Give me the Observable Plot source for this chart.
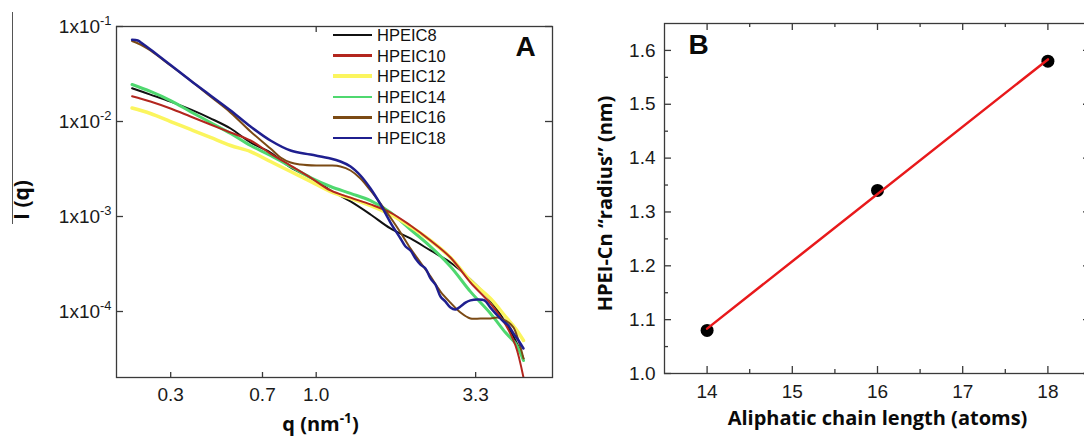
<!DOCTYPE html>
<html><head><meta charset="utf-8">
<script src="https://cdn.jsdelivr.net/npm/d3@7"></script>
<script src="https://cdn.jsdelivr.net/npm/@observablehq/plot@0.6"></script>
<style>
html,body{margin:0;padding:0;background:#fff;}
#wrap{position:relative;width:1084px;height:436px;overflow:hidden;background:#fff;}
#a,#b{position:absolute;top:0;height:436px;}
#a{left:0;width:560px;} #b{left:560px;width:540px;}
#a svg,#b svg{max-width:none !important;}
#vline{position:absolute;left:12px;top:12px;width:0;height:212px;border-left:1.5px solid #555;}
.lg{position:absolute;}
.lt{position:absolute;left:377px;font-family:'Liberation Sans',Arial,sans-serif;font-size:16.5px;color:#111;line-height:1;transform:translateY(-50%);}
</style></head>
<body><div id="wrap"><div id="vline"></div><div id="a"></div><div id="b"></div><div id="legend"></div></div>
<script>
// ---- Panel A data ----
const seriesNames = ["HPEIC8","HPEIC10","HPEIC12","HPEIC14","HPEIC16","HPEIC18"];
const seriesColors = ["#111111","#b3261e","#fbf55e","#4fd86f","#7b4a14","#1f1f8f"];
const seriesWidths = [2, 2, 3.5, 3, 2, 2.5];
const drawOrder = [0, 3, 2, 1, 4, 5];

const qGrid = [0.249, 0.286, 0.333, 0.387, 0.45, 0.524, 0.609, 0.708, 0.824, 0.958, 1.114, 1.296, 1.507, 1.752, 2.038, 2.37, 2.756, 3.205, 3.728, 4.175, 4.503, 4.783];
const iC8  = [0.0224, 0.0192, 0.0162, 0.0134, 0.0108, 0.00844, 0.00601, 0.00472, 0.00328, 0.00257, 0.00188, 0.00144, 0.00105, 0.000748, 0.000587, 0.000439, 0.000328, 0.000217, 0.000131, 0.0000766, 0.0000495, 0.000032];
const iC10 = [0.01846, 0.01624, 0.0137, 0.01129, 0.0093, 0.00766, 0.00631, 0.0046, 0.00344, 0.00257, 0.00188, 0.00158, 0.00134, 0.0011, 0.000804, 0.000559, 0.00037, 0.000202, 0.000121, 0.000073, 0.0000439, 0.0000202];
const iC12 = [0.01387, 0.01214, 0.01, 0.00824, 0.00679, 0.00559, 0.00483, 0.00379, 0.00298, 0.00234, 0.00183, 0.00155, 0.001305, 0.00105, 0.000785, 0.000559, 0.00037, 0.000212, 0.000137, 0.0000886, 0.0000662, 0.0000495];
const iC14 = [0.0245, 0.0207, 0.0166, 0.0127, 0.00976, 0.00748, 0.00559, 0.00439, 0.00336, 0.00257, 0.00207, 0.00175, 0.00147, 0.0011, 0.00073, 0.000483, 0.000298, 0.000162, 0.0000953, 0.0000601, 0.0000461, 0.0000305];
const qC16 = [0.249, 0.269, 0.286, 0.333, 0.387, 0.45, 0.524, 0.609, 0.708, 0.764, 0.824, 0.888, 1.0, 1.114, 1.201, 1.296, 1.397, 1.507, 1.625, 1.752, 1.89, 2.038, 2.198, 2.37, 2.556, 2.756, 2.973, 3.205, 3.457, 3.728, 3.93, 4.113, 4.271, 4.436, 4.607, 4.783];
const iC16 = [0.0704, 0.0631, 0.0559, 0.0389, 0.027, 0.0183, 0.0124, 0.00785, 0.0052, 0.00418, 0.0037, 0.00353, 0.00344, 0.00344, 0.00336, 0.00305, 0.00251, 0.00188, 0.00137, 0.000976, 0.000679, 0.000461, 0.000328, 0.000234, 0.000162, 0.000124, 0.0000976, 0.0000844, 0.0000844, 0.0000844, 0.0000864, 0.0000824, 0.0000766, 0.0000679, 0.0000495, 0.000032];
const qC18 = [0.249, 0.26, 0.269, 0.286, 0.333, 0.387, 0.45, 0.524, 0.609, 0.708, 0.824, 0.958, 1.114, 1.201, 1.296, 1.397, 1.507, 1.625, 1.752, 1.89, 1.963, 2.038, 2.116, 2.198, 2.282, 2.37, 2.461, 2.556, 2.654, 2.756, 2.862, 2.973, 3.087, 3.205, 3.38, 3.563, 3.728, 3.93, 4.113, 4.271, 4.436, 4.607, 4.783];
const iC18 = [0.0724, 0.0712, 0.0662, 0.0573, 0.0393, 0.027, 0.0188, 0.01305, 0.00886, 0.00631, 0.00495, 0.00449, 0.00408, 0.00379, 0.00336, 0.0027, 0.00197, 0.00134, 0.000864, 0.000587, 0.000483, 0.000439, 0.000361, 0.000312, 0.000284, 0.000223, 0.000192, 0.000144, 0.000127, 0.00011, 0.000105, 0.000113, 0.000124, 0.000131, 0.000134, 0.000131, 0.00011, 0.0000908, 0.0000785, 0.0000712, 0.0000587, 0.0000495, 0.0000408];

const qTicks = [1/3, 2/3, 1, 10/3];
const qTickLabels = ["0.3", "0.7", "1.0", "3.3"];
const iTicks = [1e-1, 1e-2, 1e-3, 1e-4];
const iTickLabels = ["1x10^{-1}", "1x10^{-2}", "1x10^{-3}", "1x10^{-4}"];
const titleA = "A", xTitleA = "q (nm^{-1})", yTitleA = "I (q)";

// ---- Panel B data ----
const chainLength = [14, 16, 18];
const radiusNm = [1.08, 1.34, 1.58];
const bxMajor = [14, 15, 16, 17, 18];
const bxMinor = [14.5, 15.5, 16.5, 17.5];
const byMajor = [1.0, 1.1, 1.2, 1.3, 1.4, 1.5, 1.6];
const byMinor = [1.05, 1.15, 1.25, 1.35, 1.45, 1.55];
const titleB = "B", xTitleB = "Aliphatic chain length (atoms)", yTitleB = "HPEI-Cn \u201cradius\u201d (nm)";

const FONT = "'Liberation Sans', Arial, sans-serif";
const TFONT = "'Open Sans', Lato, sans-serif";
const AX = "#3a3a3a";

const seriesQ = [qGrid, qGrid, qGrid, qGrid, qC16, qC18];
const seriesI = [iC8, iC10, iC12, iC14, iC16, iC18];

function rowsFor(k){ return seriesQ[k].map((q, j) => ({series: seriesNames[k], q, I: seriesI[k][j]})); }

const fwA = 436, fhA = 351;
const plotA = Plot.plot({
  width: 560, height: 436,
  marginLeft: 116, marginRight: 8, marginTop: 26, marginBottom: 59,
  x: {type: "log", domain: [0.2214, 5.955]},
  y: {type: "log", domain: [2.02e-5, 0.1]},
  style: {fontFamily: FONT, fontSize: "19px", color: "#1a1a1a", background: "transparent", overflow: "visible"},
  marks: [
    ...drawOrder.map(k => Plot.line(rowsFor(k), {x: "q", y: "I", stroke: seriesColors[k], strokeWidth: seriesWidths[k], curve: "catmull-rom", clip: true})),
    Plot.frame({stroke: AX, strokeWidth: 1.3}),
    Plot.tickY(iTicks, {y: d => d, insetRight: fwA - 7, stroke: AX, strokeWidth: 1.3}),
    Plot.tickY(iTicks, {y: d => d, insetLeft: fwA - 7, stroke: AX, strokeWidth: 1.3}),
    Plot.tickX(qTicks, {x: d => d, insetTop: fhA - 5, stroke: AX, strokeWidth: 1.3}),
    Plot.tickX([1], {x: d => d, insetBottom: fhA - 6, stroke: AX, strokeWidth: 1.3}),
    Plot.axisY({ticks: iTicks, tickSize: 0, tickPadding: 5, tickFormat: d => iTickLabels[iTicks.indexOf(d)], label: null}),
    Plot.axisX({ticks: qTicks, tickSize: 0, tickPadding: 10, tickFormat: d => qTickLabels[qTicks.indexOf(d)], label: null}),
    Plot.text([titleA], {frameAnchor: "top-right", dx: -27, dy: 21, fontSize: 28, fontWeight: "bold", fontFamily: FONT, textAnchor: "middle", lineAnchor: "middle", fill: "#0a0a0a"}),
    Plot.text([xTitleA], {frameAnchor: "bottom", dx: -14, dy: 47, fontSize: 20, fontWeight: "bold", fontFamily: TFONT, textAnchor: "middle", lineAnchor: "middle", fill: "#0a0a0a"}),
    Plot.text([yTitleA], {frameAnchor: "left", dx: -94, dy: -2, rotate: -90, fontSize: 21, fontWeight: "bold", fontFamily: TFONT, textAnchor: "middle", lineAnchor: "middle", fill: "#0a0a0a"})
  ]
});

const fwB = 426, fhB = 350;
const bRows = chainLength.map((n, i) => ({n, r: radiusNm[i]}));
const plotB = Plot.plot({
  width: 540, height: 436,
  marginLeft: 104, marginRight: 10, marginTop: 23, marginBottom: 63,
  x: {domain: [13.5, 18.5]},
  y: {domain: [1.0, 1.65]},
  style: {fontFamily: FONT, fontSize: "19px", color: "#1a1a1a", background: "transparent", overflow: "visible", maxWidth: "none"},
  marks: [
    Plot.frame({stroke: AX, strokeWidth: 1.3}),
    Plot.tickX(bxMajor, {x: d => d, insetTop: fhB - 7, stroke: AX, strokeWidth: 1.3}),
    Plot.tickX(bxMajor, {x: d => d, insetBottom: fhB - 7, stroke: AX, strokeWidth: 1.3}),
    Plot.tickX(bxMinor, {x: d => d, insetTop: fhB - 4, stroke: AX, strokeWidth: 1.3}),
    Plot.tickX(bxMinor, {x: d => d, insetBottom: fhB - 4, stroke: AX, strokeWidth: 1.3}),
    Plot.tickY(byMajor, {y: d => d, insetRight: fwB - 7, stroke: AX, strokeWidth: 1.3}),
    Plot.tickY(byMajor, {y: d => d, insetLeft: fwB - 7, stroke: AX, strokeWidth: 1.3}),
    Plot.tickY(byMinor, {y: d => d, insetRight: fwB - 4, stroke: AX, strokeWidth: 1.3}),
    Plot.tickY(byMinor, {y: d => d, insetLeft: fwB - 4, stroke: AX, strokeWidth: 1.3}),
    Plot.axisX({ticks: bxMajor, tickSize: 0, tickPadding: 11, tickFormat: d => String(d), label: null}),
    Plot.axisY({ticks: byMajor, tickSize: 0, tickPadding: 9, tickFormat: d => d.toFixed(1), label: null}),
    Plot.dot(bRows, {x: "n", y: "r", r: 6.5, fill: "#000", stroke: "none"}),
    Plot.linearRegressionY(bRows, {x: "n", y: "r", stroke: "#e8191b", strokeWidth: 2.5, ci: 0}),
    Plot.text([titleB], {frameAnchor: "top-left", dx: 34, dy: 22, fontSize: 28, fontWeight: "bold", fontFamily: FONT, textAnchor: "middle", lineAnchor: "middle", fill: "#0a0a0a"}),
    Plot.text([xTitleB], {frameAnchor: "bottom", dx: 0, dy: 45, fontSize: 20, fontWeight: "bold", fontFamily: TFONT, textAnchor: "middle", lineAnchor: "middle", fill: "#0a0a0a"}),
    Plot.text([yTitleB], {frameAnchor: "left", dx: -59, dy: 5, rotate: -90, fontSize: 20, fontWeight: "bold", fontFamily: TFONT, textAnchor: "middle", lineAnchor: "middle", fill: "#0a0a0a"})
  ]
});

function supify(svg){
  svg.querySelectorAll("text").forEach(t => {
    const s = t.textContent;
    if (!s.includes("^{")) return;
    const fs = parseFloat(getComputedStyle(t).fontSize) || 19;
    const up = 0.42 * fs;
    while (t.firstChild) t.removeChild(t.firstChild);
    const re = /\^\{([^}]*)\}/g; let last = 0, m, shifted = 0;
    const ns = "http://www.w3.org/2000/svg";
    while ((m = re.exec(s))) {
      if (m.index > last) { const a = document.createElementNS(ns, "tspan"); a.textContent = s.slice(last, m.index); if (shifted) { a.setAttribute("dy", up); shifted = 0; } t.appendChild(a); }
      const sp = document.createElementNS(ns, "tspan"); sp.textContent = m[1]; sp.setAttribute("dy", -up); sp.setAttribute("font-size", (0.68 * fs) + "px"); t.appendChild(sp); shifted = 1;
      last = re.lastIndex;
    }
    if (last < s.length) { const a = document.createElementNS(ns, "tspan"); a.textContent = s.slice(last); if (shifted) a.setAttribute("dy", up); t.appendChild(a); }
  });
}

document.getElementById("a").appendChild(plotA);
document.getElementById("b").appendChild(plotB);
plotA.style.maxWidth = "none"; plotB.style.maxWidth = "none";
supify(plotA); supify(plotB);

const legend = document.getElementById("legend");
seriesNames.forEach((name, i) => {
  const y = 35 + i * 20.6;
  const w = i === 2 ? 4 : 2.6;
  const ln = document.createElement("div");
  ln.className = "lg";
  ln.style.cssText = `left:333px;top:${y - w / 2}px;width:39px;height:${w}px;background:${seriesColors[i]};`;
  legend.appendChild(ln);
  const tx = document.createElement("div");
  tx.className = "lt";
  tx.style.top = y + "px";
  tx.textContent = name;
  legend.appendChild(tx);
});
</script>
</body></html>
